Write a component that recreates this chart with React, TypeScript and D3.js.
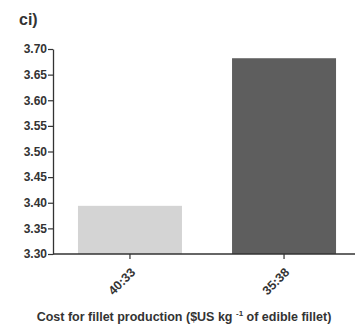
import { useEffect, useRef } from "react"
import * as d3 from "d3"

const categories = ["40:33", "35:38"]
const values = [3.394, 3.682]
const yTicks = [3.3, 3.35, 3.4, 3.45, 3.5, 3.55, 3.6, 3.65, 3.7]
const barColors = ["#d4d4d4", "#5e5e5e"]

export default function App() {
  const svgRef = useRef<SVGSVGElement>(null)

  useEffect(() => {
    if (!svgRef.current) return
    const svg = d3.select(svgRef.current)
    svg.selectAll("*").remove()

    const font = "Liberation Sans, Arial, sans-serif"
    const ink = "#333"

    const x = d3.scaleBand<string>().domain(categories).range([53, 361]).paddingInner(0.325).paddingOuter(0.162)
    const y = d3.scaleLinear().domain([3.3, 3.7]).range([254, 49])

    // panel label
    svg.append("text")
      .attr("x", 19)
      .attr("y", 25)
      .attr("font-family", font)
      .attr("font-weight", "bold")
      .attr("font-size", 16)
      .attr("fill", ink)
      .text("ci)")

    // bars
    svg.selectAll(".bar")
      .data(categories)
      .enter()
      .append("rect")
      .attr("x", (d) => x(d)!)
      .attr("y", (_, i) => y(values[i]))
      .attr("width", x.bandwidth())
      .attr("height", (_, i) => y(3.3) - y(values[i]))
      .attr("fill", (_, i) => barColors[i])

    // y axis
    const yAxis = svg.append("g")
      .attr("transform", "translate(53,0)")
      .call(d3.axisLeft(y).tickValues(yTicks).tickFormat(d3.format(".2f")).tickSize(5).tickSizeOuter(0))
    yAxis.select(".domain").attr("stroke", ink).attr("stroke-width", 1.3)
    yAxis.selectAll(".tick line").attr("stroke", ink).attr("stroke-width", 1.2)
    yAxis.selectAll(".tick text")
      .attr("x", -6)
      .attr("font-family", font)
      .attr("font-weight", "bold")
      .attr("font-size", 12)
      .attr("fill", ink)

    // x axis
    const xAxis = svg.append("g")
      .attr("transform", "translate(0,254)")
      .call(d3.axisBottom(x).tickSize(5).tickSizeOuter(0))
    xAxis.select(".domain").remove()
    xAxis.append("line")
      .attr("x1", 53)
      .attr("x2", 355)
      .attr("stroke", ink)
      .attr("stroke-width", 1.3)
    xAxis.selectAll(".tick line").attr("stroke", ink).attr("stroke-width", 1.2)
    xAxis.selectAll(".tick text")
      .attr("font-family", font)
      .attr("font-weight", "bold")
      .attr("font-size", 12.5)
      .attr("fill", ink)
      .attr("text-anchor", "end")
      .attr("dy", "0.35em")
      .attr("transform", "translate(3,16) rotate(-45)")
      .attr("y", 0)

    // axis title
    const title = svg.append("text")
      .attr("x", 184)
      .attr("y", 321)
      .attr("text-anchor", "middle")
      .attr("font-family", font)
      .attr("font-weight", "bold")
      .attr("font-size", 12.5)
      .attr("fill", ink)
    title.append("tspan").text("Cost for fillet production ($US kg ")
    title.append("tspan").attr("dy", -5).attr("font-size", 8).text("-1")
    title.append("tspan").attr("dy", 5).text(" of edible fillet)")
  }, [])

  return (
    <svg
      ref={svgRef}
      width={357}
      height={329}
      style={{ position: "absolute", left: 0, top: 0, background: "#fff" }}
    />
  )
}
